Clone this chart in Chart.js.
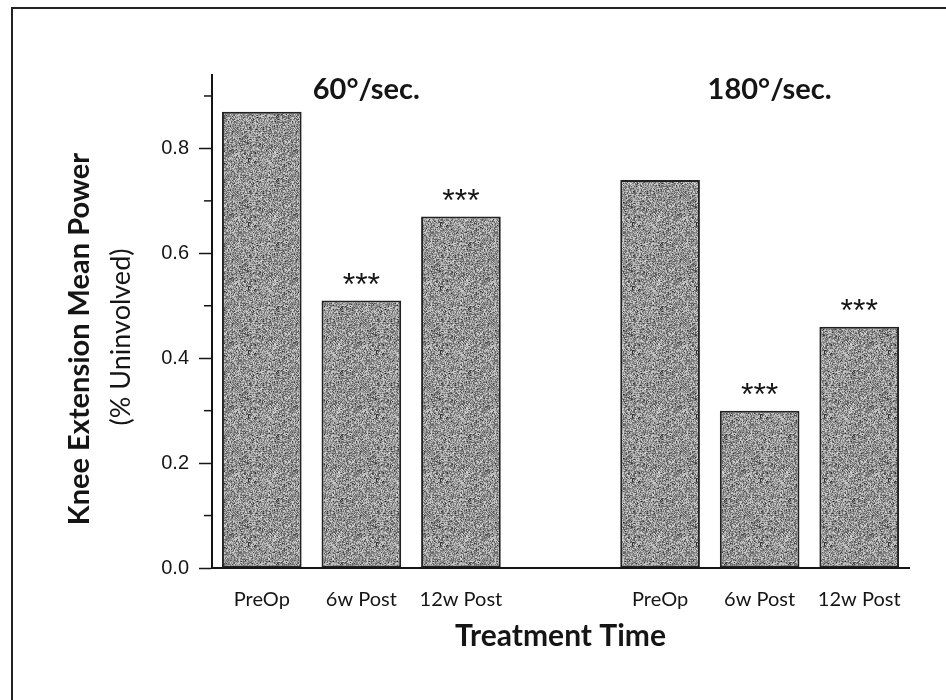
<!DOCTYPE html>
<html>
<head>
<meta charset="utf-8">
<script src="https://cdn.jsdelivr.net/npm/chart.js@4.4.1/dist/chart.umd.min.js"></script>
<style>
  html, body { margin: 0; padding: 0; background: #fff; }
  #wrap { width: 946px; height: 700px; }
</style>
</head>
<body>
<div id="wrap"><canvas id="power-chart" width="946" height="700"></canvas></div>
<script>
// bar categories, the blank one is the gap between the two speeds
const categories = ['PreOp', '6w Post', '12w Post', '', 'PreOp', '6w Post', '12w Post'];
const meanPower = [0.87, 0.51, 0.67, null, 0.74, 0.30, 0.46];
const significance = ['', '***', '***', '', '', '***', '***'];
const yTickLabels = [0, 0.2, 0.4, 0.6, 0.8];
const yMinorTicks = [0.1, 0.3, 0.5, 0.7, 0.9];
const speedTitles = ['60°/sec.', '180°/sec.'];
const speedTitleAt = [1.05, 5.1]; // category index the title sits over

const ink = '#151515';

// grainy grey fill like the scanned bars
function speckle() {
    const c = document.createElement('canvas');
    c.width = 64;
    c.height = 64;
    const g = c.getContext('2d');
    const img = g.createImageData(64, 64);
    for (let i = 0; i < 64 * 64; i++) {
        let h = Math.imul(i + 17, 2654435761) >>> 0;
        h ^= h >>> 13;
        h = Math.imul(h, 1274126177) >>> 0;
        h ^= h >>> 16;
        let v = 152 + (h % 62);
        if (h % 9 === 0) v -= 50;
        img.data[i * 4] = v;
        img.data[i * 4 + 1] = v;
        img.data[i * 4 + 2] = v;
        img.data[i * 4 + 3] = 255;
    }
    g.putImageData(img, 0, 0);
    return g.createPattern(c, 'repeat');
}

const decorations = {
    id: 'decorations',
    afterDraw(chart) {
        const ctx = chart.ctx;
        const xs = chart.scales.x;
        const ys = chart.scales.y;
        ctx.save();

        // frame (only top and left edges are inside the picture)
        ctx.strokeStyle = '#222';
        ctx.lineWidth = 2;
        ctx.beginPath();
        ctx.moveTo(12, 700);
        ctx.lineTo(12, 8);
        ctx.lineTo(946, 8);
        ctx.stroke();

        // minor ticks on y
        ctx.strokeStyle = ink;
        ctx.lineWidth = 1.5;
        yMinorTicks.forEach(v => {
            const y = ys.getPixelForValue(v);
            ctx.beginPath();
            ctx.moveTo(ys.right - 8, y);
            ctx.lineTo(ys.right, y);
            ctx.stroke();
        });

        // significance stars
        const meta = chart.getDatasetMeta(0);
        ctx.fillStyle = ink;
        ctx.textAlign = 'center';
        ctx.textBaseline = 'alphabetic';
        ctx.font = '32px "Liberation Sans", Arial, sans-serif';
        significance.forEach((s, i) => {
            if (!s) return;
            const bar = meta.data[i];
            ctx.fillText(s, bar.x, bar.y - 6);
        });

        // speed titles
        ctx.font = 'bold 29px Lato, sans-serif';
        speedTitles.forEach((t, i) => {
            ctx.fillText(t, xs.getPixelForValue(speedTitleAt[i]), 99);
        });

        // y axis title, two lines with different weights
        ctx.textBaseline = 'middle';
        ctx.translate(80, 339);
        ctx.rotate(-Math.PI / 2);
        ctx.font = 'bold 29px Lato, sans-serif';
        ctx.fillText('Knee Extension Mean Power', 0, 0);
        ctx.font = '27px Lato, sans-serif';
        ctx.fillText('(% Uninvolved)', 2, 41);
        ctx.restore();
    }
};

const ctx = document.getElementById('power-chart').getContext('2d');

new Chart(ctx, {
    type: 'bar',
    data: {
        labels: categories,
        datasets: [{
            data: meanPower,
            backgroundColor: speckle(),
            borderColor: '#222',
            borderWidth: 2,
            borderSkipped: false,
            barPercentage: 0.8,
            categoryPercentage: 1.0
        }]
    },
    options: {
        responsive: false,
        animation: false,
        layout: {
            padding: { top: 75, right: 37, left: 0, bottom: 0 }
        },
        plugins: {
            legend: { display: false },
            tooltip: { enabled: false }
        },
        scales: {
            x: {
                grid: { display: false },
                border: { display: true, color: ink, width: 2 },
                ticks: {
                    color: ink,
                    font: { family: 'Lato', size: 20 },
                    padding: 12,
                    maxRotation: 0,
                    autoSkip: false
                },
                title: {
                    display: true,
                    text: 'Treatment Time',
                    color: ink,
                    font: { family: 'Lato', size: 30, weight: 'bold' },
                    padding: { top: 0, bottom: 46 }
                },
                afterFit: s => { s.height = 132; }
            },
            y: {
                min: 0,
                max: 0.94,
                ticks: {
                    stepSize: 0.2,
                    includeBounds: false,
                    autoSkip: false,
                    color: ink,
                    font: { family: 'Liberation Sans', size: 20 },
                    padding: 10,
                    callback: v => yTickLabels.some(t => Math.abs(t - v) < 1e-6) ? v.toFixed(1) : ''
                },
                grid: {
                    drawOnChartArea: false,
                    tickLength: 13,
                    tickColor: ink,
                    tickWidth: 1.5
                },
                border: { color: ink, width: 2 },
                afterFit: s => { s.width = 212; }
            }
        }
    },
    plugins: [decorations]
});
</script>
</body>
</html>
